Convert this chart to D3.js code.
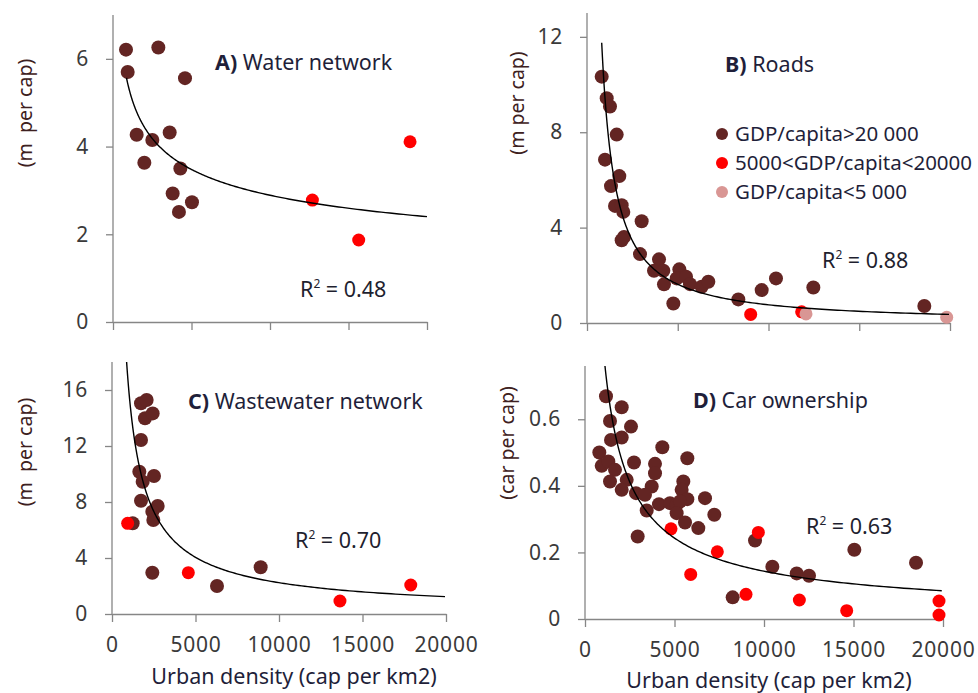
<!DOCTYPE html>
<html>
<head>
<meta charset="utf-8">
<script src="https://cdn.jsdelivr.net/npm/d3@7"></script>
<style>
  html, body { margin: 0; padding: 0; background: #fff; }
  svg { display: block; font-family: "Noto Sans", "Open Sans", sans-serif; }
</style>
</head>
<body>
<svg id="chart" width="978" height="693"></svg>
<script>
// ---------- DATA ----------
const xTicks = [0, 5000, 10000, 15000, 20000];
const legendLabels = ["GDP/capita>20 000", "5000<GDP/capita<20000", "GDP/capita<5 000"];
const groupColors = ["#632523", "#ff0000", "#d99694"];

// A) Water network  [density, m per cap]
const waterHigh = [[828,6.21],[935,5.70],[2888,6.26],[4586,5.56],[1508,4.27],[2505,4.15],[3610,4.32],
  [1996,3.63],[4290,3.50],[3800,2.93],[5030,2.73],[4200,2.51]];
const waterMid = [[12700,2.78],[15650,1.87],[18920,4.11]];
const waterLow = [];
const waterYTicks = [0, 2, 4, 6];

// B) Roads
const roadsHigh = [[810,10.33],[1085,9.43],[1267,9.08],[1636,7.90],[992,6.85],[1780,6.16],[1322,5.74],
  [1543,4.91],[1910,4.94],[2000,4.66],[2040,3.61],[1910,3.47],[3012,4.27],[2920,2.89],[3967,2.67],
  [3691,2.19],[4205,2.19],[4242,1.62],[5087,2.25],[4941,1.87],[5455,1.94],[5675,1.63],[6318,1.52],
  [6685,1.73],[4757,0.82],[8338,0.99],[9624,1.38],[10413,1.87],[12470,1.49],[18585,0.71]];
const roadsMid = [[9018,0.36],[11827,0.47]];
const roadsLow = [[12066,0.38],[19818,0.24]];
const roadsYTicks = [0, 4, 8, 12];

// C) Wastewater network
const wasteHigh = [[1737,15.05],[2075,15.29],[1976,13.98],[2435,14.33],[1737,12.43],[1636,10.16],
  [1836,9.45],[2515,9.86],[1737,8.09],[2735,7.71],[2415,7.31],[2475,6.71],[1237,6.48],[2415,2.95],
  [6287,2.00],[8902,3.34]];
const wasteMid = [[937,6.48],[4570,2.95],[13650,0.93],[17890,2.07]];
const wasteLow = [];
const wasteYTicks = [0, 4, 8, 12, 16];

// D) Car ownership
const carHigh = [[1173,0.669],[2050,0.636],[1397,0.595],[2570,0.578],[1453,0.538],[2050,0.545],
  [4320,0.516],[800,0.500],[5716,0.483],[2738,0.470],[3911,0.466],[932,0.460],[1303,0.473],
  [1676,0.448],[3911,0.438],[1397,0.413],[2330,0.418],[2050,0.388],[5493,0.413],[5400,0.388],
  [3726,0.398],[2850,0.378],[3352,0.373],[5716,0.360],[6704,0.363],[4134,0.345],[4749,0.348],
  [5120,0.343],[5307,0.353],[3447,0.326],[5120,0.318],[7224,0.313],[5587,0.290],[6330,0.273],
  [2943,0.248],[9498,0.236],[10466,0.157],[11827,0.137],[12515,0.130],[15047,0.208],[18493,0.169],
  [8250,0.065]];
const carMid = [[4805,0.271],[9684,0.260],[7393,0.202],[5905,0.134],[8995,0.074],[11975,0.057],
  [14620,0.025],[19777,0.054],[19777,0.012]];
const carLow = [];
const carYTicks = [0, 0.2, 0.4, 0.6];

// Power trendlines y = a * x^b  (coefficients), and their x-ranges
const trendCoef = { A: [33.8, -0.267], B: [17165, -1.088], C: [5940, -0.856], D: [157.4, -0.76] };
const trendRange = { A: [860, 20000], B: [810, 19945], C: [800, 19940], D: [800, 19930] };
const r2Labels = { A: "0.48", B: "0.88", C: "0.70", D: "0.63" };
const titles = { A: ["A)", " Water network"], B: ["B)", " Roads"], C: ["C)", " Wastewater network"], D: ["D)", " Car ownership"] };
const yTitles = { A: "(m  per cap)", B: "(m per cap)", C: "(m  per cap)", D: "(car per cap)" };
const xTitle = "Urban density (cap per km2)";

// ---------- LAYOUT ----------
const panels = [
  { id: "A", groups: [waterHigh, waterMid, waterLow], yTicks: waterYTicks, yMax: 7,
    x0: 113, x1: 427, yBottom: 322, yTop: 15, xLabels: false,
    titlePos: [215, 70], r2Pos: [300, 297], yTitlePos: [25, 113] },
  { id: "B", groups: [roadsHigh, roadsMid, roadsLow], yTicks: roadsYTicks, yMax: 13,
    x0: 587, x1: 950, yBottom: 323, yTop: 13, xLabels: false,
    titlePos: [725, 72], r2Pos: [822, 268], yTitlePos: [517, 103] },
  { id: "C", groups: [wasteHigh, wasteMid, wasteLow], yTicks: wasteYTicks, yMax: 18,
    x0: 112, x1: 446, yBottom: 614, yTop: 362, xLabels: true,
    titlePos: [188, 409], r2Pos: [295, 548], yTitlePos: [25, 452], xTitlePos: [294, 684] },
  { id: "D", groups: [carHigh, carMid, carLow], yTicks: carYTicks, yMax: 0.76,
    x0: 585, x1: 943, yBottom: 619, yTop: 366, xLabels: true,
    titlePos: [693, 408], r2Pos: [806, 534], yTitlePos: [507, 443], xTitlePos: [769, 688] }
];

const svg = d3.select("#chart");
const axisColor = "#868686";
const tickTextColor = "#3a3a3a";
const titleColor = "#1f1f3a";
const yTitleColor = "#3d2020";

panels.forEach(p => {
  const x = d3.scaleLinear().domain([0, 20000]).range([p.x0, p.x1]);
  const y = d3.scaleLinear().domain([0, p.yMax]).range([p.yBottom, p.yTop]);
  const g = svg.append("g");

  // clip for trendline
  svg.append("clipPath").attr("id", "clip" + p.id)
    .append("rect").attr("x", p.x0).attr("y", p.yTop)
    .attr("width", p.x1 - p.x0 + 2).attr("height", p.yBottom - p.yTop);

  // axes
  const yAxis = d3.axisLeft(y).tickValues(p.yTicks).tickSize(7).tickSizeOuter(0).tickPadding(17)
    .tickFormat(d => d3.format("")(d));
  const yg = g.append("g").attr("transform", `translate(${p.x0},0)`).call(yAxis);
  const xAxis = d3.axisBottom(x).tickValues(xTicks).tickSize(8).tickSizeOuter(0).tickPadding(15)
    .tickFormat(d => p.xLabels ? d : "");
  const xg = g.append("g").attr("transform", `translate(0,${p.yBottom})`).call(xAxis);
  [yg, xg].forEach(a => {
    a.select(".domain").attr("stroke", axisColor).attr("stroke-width", 1.3);
    a.selectAll(".tick line").attr("stroke", axisColor).attr("stroke-width", 1.3);
    a.selectAll(".tick text").attr("fill", tickTextColor).attr("font-size", 21)
      .attr("letter-spacing", 0.8)
      .attr("font-family", '"Noto Sans", sans-serif');
  });
  yg.select(".domain").attr("d", `M0,${p.yBottom}V${p.yTop}`);

  // points
  p.groups.forEach((pts, gi) => {
    g.append("g").selectAll("circle").data(pts).join("circle")
      .attr("cx", d => x(d[0])).attr("cy", d => y(d[1]))
      .attr("r", gi === 0 ? 7 : 6.5)
      .attr("fill", groupColors[gi]);
  });

  // trendline
  const [a, b] = trendCoef[p.id];
  const [t0, t1] = trendRange[p.id];
  const xs = d3.range(0, 201).map(i => t0 * Math.pow(t1 / t0, i / 200));
  const line = d3.line().x(d => x(d)).y(d => y(a * Math.pow(d, b)));
  g.append("path").datum(xs).attr("d", line)
    .attr("fill", "none").attr("stroke", "#000").attr("stroke-width", 1.4)
    .attr("clip-path", `url(#clip${p.id})`);

  // panel title
  const t = g.append("text").attr("x", p.titlePos[0]).attr("y", p.titlePos[1])
    .attr("font-size", 21.5).attr("fill", titleColor);
  t.append("tspan").attr("font-weight", "bold").text(titles[p.id][0]);
  t.append("tspan").attr("xml:space", "preserve").text(titles[p.id][1]);

  // R² label
  const r = g.append("text").attr("x", p.r2Pos[0]).attr("y", p.r2Pos[1])
    .attr("font-size", 21.5).attr("fill", "#1f1f2f");
  r.append("tspan").text("R");
  r.append("tspan").attr("font-size", 12).attr("dy", -9).text("2");
  r.append("tspan").attr("dy", 9).text(" = " + r2Labels[p.id]);

  // y title
  g.append("text")
    .attr("transform", `translate(${p.yTitlePos[0]},${p.yTitlePos[1]}) rotate(-90)`)
    .attr("text-anchor", "middle").attr("dy", "0.35em")
    .attr("font-size", 19.5).attr("fill", yTitleColor)
    .style("white-space", "pre").text(yTitles[p.id]);

  // x title
  if (p.xTitlePos) {
    g.append("text").attr("x", p.xTitlePos[0]).attr("y", p.xTitlePos[1])
      .attr("text-anchor", "middle").attr("font-size", 21.5).attr("fill", titleColor)
      .text(xTitle);
  }

  // legend (panel B)
  if (p.id === "B") {
    const lg = g.append("g");
    legendLabels.forEach((lab, i) => {
      const cy = 134 + i * 29;
      lg.append("circle").attr("cx", 722).attr("cy", cy).attr("r", 6).attr("fill", groupColors[i]);
      lg.append("text").attr("x", 735).attr("y", cy + 7).attr("font-size", 20.5)
        .attr("fill", titleColor).text(lab);
    });
  }
});
</script>
</body>
</html>
